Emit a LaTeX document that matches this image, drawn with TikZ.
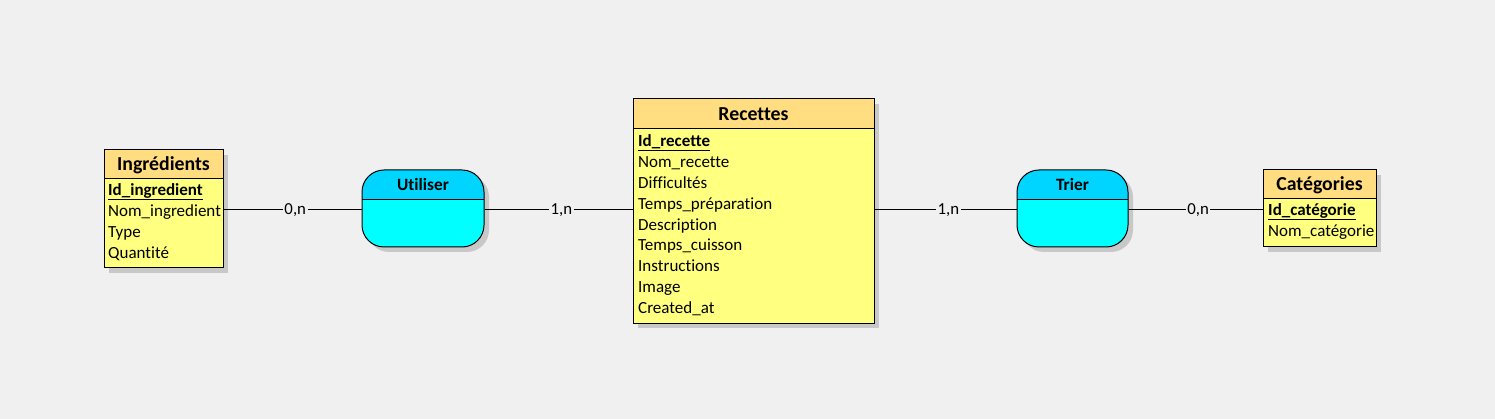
\documentclass[tikz,border=0pt]{standalone}
\usepackage{fontspec}
\setmainfont{Carlito}[Ligatures={NoCommon}, RawFeature={-liga}]
\usetikzlibrary{shadows}
\definecolor{bg}{RGB}{240,240,240}
\definecolor{enthead}{RGB}{255,221,128}
\definecolor{entbody}{RGB}{255,255,128}
\definecolor{ashead}{RGB}{0,213,255}
\definecolor{asbody}{RGB}{0,255,255}
\definecolor{shadowc}{RGB}{200,200,200}
\begin{document}
\begin{tikzpicture}[x=1pt,y=-1pt,
  shad/.style={general shadow={fill=shadowc, shadow xshift=5pt, shadow yshift=-5pt}},
  entity/.style={draw=black, line width=1pt, inner sep=0pt, fill=enthead, shad,
    path picture={\fill[entbody, sharp corners] ([yshift=-#1]path picture bounding box.north west) rectangle (path picture bounding box.south east);
      \draw[line width=1pt, sharp corners] ([yshift=-#1]path picture bounding box.north west) -- ([yshift=-#1]path picture bounding box.north east);}},
  assoc/.style={draw=black, line width=1pt, inner sep=0pt, rounded corners=22pt, fill=ashead, shad,
    minimum height=77pt,
    path picture={\fill[asbody, sharp corners] ([yshift=-30pt]path picture bounding box.north west) rectangle (path picture bounding box.south east);
      \draw[line width=1pt, sharp corners] ([yshift=-30pt]path picture bounding box.north west) -- ([yshift=-30pt]path picture bounding box.north east);}},
  etitle/.style={anchor=base, inner sep=0pt, font=\fontsize{19.8}{22}\selectfont\bfseries},
  atitle/.style={anchor=base, inner sep=0pt, font=\fontsize{17.3}{19}\selectfont\bfseries},
  attr/.style={anchor=base west, inner sep=0pt, font=\fontsize{17}{19}\selectfont},
  keyattr/.style={attr, font=\fontsize{17}{19}\selectfont\bfseries},
  link/.style={draw=black, line width=1pt},
  card/.style={fill=bg, inner sep=1.5pt, font=\fontsize{16.8}{19}\selectfont}
]
\fill[bg] (0,0) rectangle (1495,419);
\useasboundingbox (0,0) rectangle (1495,419);

% Entities
\node[entity=29pt, minimum width=119pt, minimum height=118pt] (ing) at (163.5,209) {};
\node[entity=30pt, minimum width=241pt, minimum height=224pt] (rec) at (753.5,211) {};
\node[entity=29pt, minimum width=113pt, minimum height=77pt] (cat) at (1319.5,208.5) {};

% Associations
\node[assoc, minimum width=122pt] (util) at (423,208.5) {};
\node[assoc, minimum width=111pt] (trier) at (1072.5,208.5) {};

% Titles
\node[etitle] (ing-t) at (163.5,170.7) {Ingrédients};
\node[etitle] (rec-t) at (753.5,120.7) {Recettes};
\node[etitle] (cat-t) at (1319.5,190.7) {Catégories};
\node[atitle] (util-t) at (423,190.5) {Utiliser};
\node[atitle] (trier-t) at (1072.5,190.5) {Trier};

% Ingredients attributes
\node[keyattr] (ing-k) at (108,196) {Id\_ingredient};
\draw[line width=1pt] ([yshift=-3.5pt]ing-k.base west) -- ([yshift=-3.5pt]ing-k.base east);
\node[attr] (ing-a1) at (108,217) {Nom\_ingredient};
\node[attr] (ing-a2) at (108,238) {Type};
\node[attr] (ing-a3) at (108,259) {Quantité};

% Recettes attributes
\node[keyattr] (rec-k) at (638,146.7) {Id\_recette};
\draw[line width=1pt] ([yshift=-3.5pt]rec-k.base west) -- ([yshift=-3.5pt]rec-k.base east);
\node[attr] (rec-a1) at (638,167.5) {Nom\_recette};
\node[attr] (rec-a2) at (638,188.4) {Difficultés};
\node[attr] (rec-a3) at (638,209.2) {Temps\_préparation};
\node[attr] (rec-a4) at (638,230.1) {Description};
\node[attr] (rec-a5) at (638,250.9) {Temps\_cuisson};
\node[attr] (rec-a6) at (638,271.7) {Instructions};
\node[attr] (rec-a7) at (638,292.6) {Image};
\node[attr] (rec-a8) at (638,313.4) {Created\_at};

% Categories attributes
\node[keyattr] (cat-k) at (1268,215.7) {Id\_catégorie};
\draw[line width=1pt] ([yshift=-3.5pt]cat-k.base west) -- ([yshift=-3.5pt]cat-k.base east);
\node[attr] (cat-a1) at (1268,236.7) {Nom\_catégorie};

% Links
\draw[link] (ing.east |- 0,210) -- node[card, pos=0.52] {0,n} (util.west |- 0,210);
\draw[link] (util.east |- 0,210) -- node[card, pos=0.52] {1,n} (rec.west |- 0,210);
\draw[link] (rec.east |- 0,210) -- node[card, pos=0.52] {1,n} (trier.west |- 0,210);
\draw[link] (trier.east |- 0,210) -- node[card, pos=0.52] {0,n} (cat.west |- 0,210);
\end{tikzpicture}
\end{document}
